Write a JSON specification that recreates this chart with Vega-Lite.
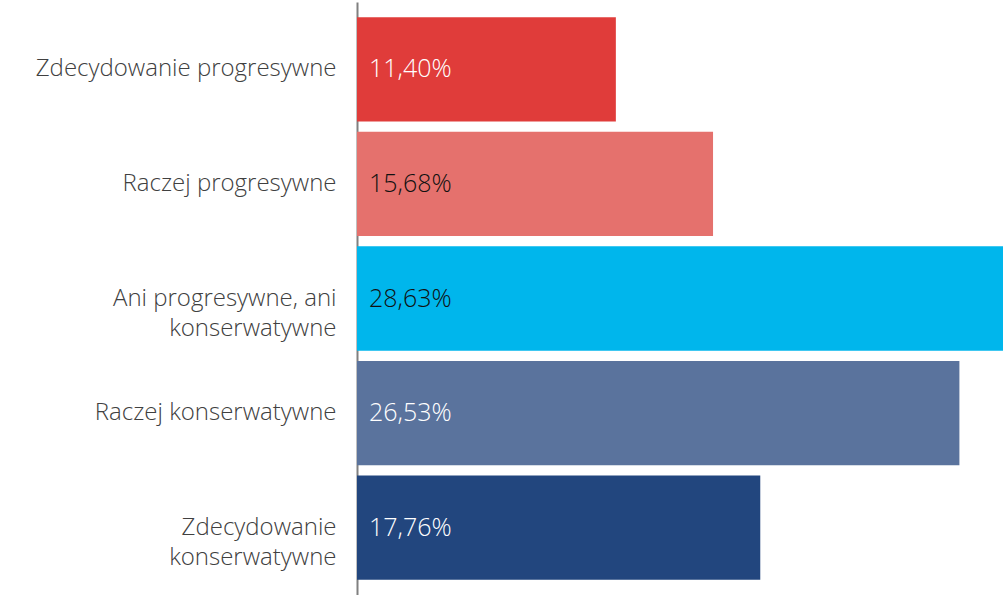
{
  "$schema": "https://vega.github.io/schema/vega-lite/v6.json",
  "autosize": "none",
  "width": 646,
  "height": 593,
  "padding": {"left": 357, "top": 2, "right": 0, "bottom": 0},
  "background": "white",
  "config": {
    "view": {"stroke": null},
    "font": "Open Sans",
    "locale": {"number": {"decimal": ",", "thousands": " ", "grouping": [3], "currency": ["", " zł"]}}
  },
  "data": {
    "values": [
      {"kategoria": "Zdecydowanie progresywne", "udzial": 0.1140},
      {"kategoria": "Raczej progresywne", "udzial": 0.1568},
      {"kategoria": "Ani progresywne, ani|konserwatywne", "udzial": 0.2863},
      {"kategoria": "Raczej konserwatywne", "udzial": 0.2653},
      {"kategoria": "Zdecydowanie|konserwatywne", "udzial": 0.1776}
    ]
  },
  "encoding": {
    "y": {
      "field": "kategoria",
      "type": "nominal",
      "sort": null,
      "scale": {"paddingInner": 0.09, "paddingOuter": 0.132},
      "axis": {
        "title": null,
        "ticks": false,
        "domainColor": "#808080",
        "domainWidth": 2,
        "labelFont": "Open Sans",
        "labelFontSize": 24,
        "labelFontWeight": 300,
        "labelColor": "#404040",
        "labelPadding": 21,
        "labelLineHeight": 30,
        "labelLimit": 400,
        "labelExpr": "split(datum.value, '|')"
      }
    }
  },
  "layer": [
    {
      "mark": {"type": "bar", "clip": true},
      "encoding": {
        "x": {
          "field": "udzial",
          "type": "quantitative",
          "scale": {"domain": [0, 0.2845], "nice": false},
          "axis": null
        },
        "color": {
          "field": "kategoria",
          "type": "nominal",
          "sort": null,
          "scale": {"range": ["#E03C3A", "#E5716D", "#00B6EC", "#5A739D", "#22467E"]},
          "legend": null
        }
      }
    },
    {
      "mark": {"type": "text", "align": "left", "baseline": "middle", "dx": 12, "fontSize": 25, "fontWeight": 300, "font": "Open Sans"},
      "encoding": {
        "x": {"datum": 0, "type": "quantitative"},
        "text": {"field": "udzial", "type": "quantitative", "format": ".2%"},
        "color": {
          "condition": {"test": "datum.kategoria === 'Raczej progresywne' || datum.kategoria === 'Ani progresywne, ani|konserwatywne'", "value": "#111111"},
          "value": "white"
        }
      }
    }
  ]
}
